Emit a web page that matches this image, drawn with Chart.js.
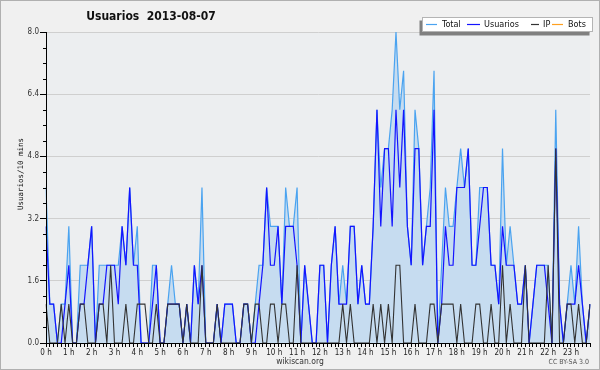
<!DOCTYPE html>
<html>
<head>
<meta charset="utf-8">
<title>Usuarios 2013-08-07</title>
<script src="https://cdn.jsdelivr.net/npm/chart.js@4.4.1/dist/chart.umd.min.js"></script>
<style>
html, body { margin: 0; padding: 0; background: #f0f0f0; }
canvas { display: block; }
</style>
</head>
<body>
<canvas id="myChart" width="600" height="370"></canvas>
<script>
// tick labels
const hourLabels = ['0 h', '1 h', '2 h', '3 h', '4 h', '5 h', '6 h', '7 h', '8 h', '9 h', '10 h', '11 h',
    '12 h', '13 h', '14 h', '15 h', '16 h', '17 h', '18 h', '19 h', '20 h', '21 h', '22 h', '23 h'];
const yTicks = [0, 1.6, 3.2, 4.8, 6.4, 8.0];

// one value every 10 minutes (144 per day)
const total = [
    4, 1, 1, 0, 1, 1, 3, 0, 0, 2, 2, 2,
    3, 0, 2, 2, 2, 2, 2, 2, 3, 2, 4, 2,
    3, 0, 0, 0, 2, 2, 0, 0, 1, 2, 1, 1,
    0, 1, 0, 2, 1, 4, 0, 0, 0, 1, 0, 1,
    1, 1, 0, 0, 1, 1, 0, 1, 2, 2, 4, 3,
    3, 3, 1, 4, 3, 3, 4, 0, 2, 1, 0, 0,
    2, 2, 0, 2, 3, 1, 2, 1, 3, 3, 1, 2,
    1, 1, 3, 6, 4, 5, 5, 6, 8, 6, 7, 3,
    2, 6, 5, 2, 3, 4, 7, 0, 2, 4, 3, 3,
    4, 5, 4, 5, 2, 2, 4, 4, 4, 2, 2, 1,
    5, 2, 3, 2, 1, 1, 2, 0, 1, 2, 2, 2,
    2, 0, 6, 1, 0, 1, 2, 1, 3, 1, 0, 1
];
const usuarios = [
    3, 1, 1, 0, 0, 1, 2, 0, 0, 1, 1, 2,
    3, 0, 1, 1, 2, 2, 2, 1, 3, 2, 4, 2,
    2, 0, 0, 0, 1, 2, 0, 0, 1, 1, 1, 1,
    0, 1, 0, 2, 1, 2, 0, 0, 0, 1, 0, 1,
    1, 1, 0, 0, 1, 1, 0, 0, 1, 2, 4, 2,
    2, 3, 1, 3, 3, 3, 2, 0, 2, 1, 0, 0,
    2, 2, 0, 2, 3, 1, 1, 1, 3, 3, 1, 2,
    1, 1, 3, 6, 3, 5, 5, 3, 6, 4, 6, 3,
    2, 5, 5, 2, 3, 3, 6, 0, 1, 3, 2, 2,
    4, 4, 4, 5, 2, 2, 3, 4, 4, 2, 2, 1,
    3, 2, 2, 2, 1, 1, 2, 0, 1, 2, 2, 2,
    1, 0, 5, 1, 0, 1, 1, 1, 2, 1, 0, 1
];
const ip = [
    1, 0, 0, 0, 1, 0, 1, 0, 0, 1, 1, 0,
    0, 0, 1, 1, 0, 2, 0, 0, 0, 1, 0, 0,
    1, 1, 1, 0, 0, 1, 0, 0, 1, 1, 1, 1,
    0, 1, 0, 0, 0, 2, 0, 0, 0, 1, 0, 0,
    0, 0, 0, 0, 1, 1, 0, 1, 1, 0, 0, 1,
    1, 0, 1, 1, 0, 0, 2, 0, 0, 0, 0, 0,
    0, 0, 0, 0, 0, 0, 1, 0, 1, 0, 0, 0,
    0, 0, 1, 0, 1, 0, 1, 0, 2, 2, 0, 0,
    0, 1, 0, 0, 0, 1, 1, 0, 1, 1, 1, 1,
    0, 1, 0, 0, 0, 1, 1, 0, 0, 1, 0, 0,
    2, 0, 1, 0, 0, 0, 2, 0, 0, 0, 0, 0,
    2, 0, 5, 0, 0, 1, 1, 0, 1, 0, 0, 1
];
const bots = [
    0, 0, 0, 0, 0, 0, 0, 0, 0, 0, 0, 0,
    0, 0, 0, 0, 0, 0, 0, 0, 0, 0, 0, 0,
    0, 0, 0, 0, 0, 0, 0, 0, 0, 0, 0, 0,
    0, 0, 0, 0, 0, 0, 0, 0, 0, 0, 0, 0,
    0, 0, 0, 0, 0, 0, 0, 0, 0, 0, 0, 0,
    0, 0, 0, 0, 0, 0, 0, 0, 0, 0, 0, 0,
    0, 0, 0, 0, 0, 0, 0, 0, 0, 0, 0, 0,
    0, 0, 0, 0, 0, 0, 0, 0, 0, 0, 0, 0,
    0, 0, 0, 0, 0, 0, 0, 0, 0, 0, 0, 0,
    0, 0, 0, 0, 0, 0, 0, 0, 0, 0, 0, 0,
    0, 0, 0, 0, 0, 0, 0, 0, 0, 0, 0, 0,
    0, 0, 0, 0, 0, 0, 0, 0, 0, 0, 0, 0
];

const slots = [];
hourLabels.forEach(function (h, hi) {
    for (let m = 0; m < 6; m++) {
        slots.push(hi + ':' + m + '0');
    }
});

const legendItems = [
    { label: 'Total', color: '#4aa3f0', x: 426, w: 11, tx: 442 },
    { label: 'Usuarios', color: '#1414ff', x: 467, w: 13, tx: 484 },
    { label: 'IP', color: '#333333', x: 531, w: 8, tx: 543 },
    { label: 'Bots', color: '#ffa020', x: 552, w: 11, tx: 568 }
];

const condensed = '"DejaVu Sans Condensed", "Liberation Sans Narrow", "DejaVu Sans", sans-serif';

// background, title, legend box, footer
const decor = {
    id: 'decor',
    beforeDraw: function (chart) {
        const c = chart.ctx;
        const a = chart.chartArea;
        c.save();
        c.fillStyle = '#f0f0f0';
        c.fillRect(0, 0, chart.width, chart.height);
        c.strokeStyle = '#b0b0b0';
        c.lineWidth = 1;
        c.strokeRect(0.5, 0.5, chart.width - 1, chart.height - 1);
        c.fillStyle = '#eceef0';
        c.fillRect(a.left, a.top, a.right - a.left, a.bottom - a.top);
        c.restore();
    },
    afterDraw: function (chart) {
        const c = chart.ctx;
        const a = chart.chartArea;
        const y = chart.scales.y;
        c.save();

        // minor ticks on the y axis
        c.strokeStyle = '#000';
        c.lineWidth = 1;
        c.beginPath();
        for (let k = 0; k <= 20; k++) {
            if (k % 4 === 0) continue;
            const py = Math.round(y.getPixelForValue(k * 0.4)) + 0.5;
            c.moveTo(a.left - 3, py);
            c.lineTo(a.left, py);
        }
        c.stroke();

        // title
        c.fillStyle = '#111';
        c.font = 'bold 12px ' + condensed;
        c.textAlign = 'center';
        c.textBaseline = 'middle';
        c.fillText('Usuarios  2013-08-07', 151, 17);

        // y axis title
        c.save();
        c.translate(21, 174);
        c.rotate(-Math.PI / 2);
        c.font = '7.5px "DejaVu Sans Mono", monospace';
        c.fillStyle = '#111';
        c.fillText('Usuarios/10 mins', 0, 0);
        c.restore();

        // legend
        c.fillStyle = '#808080';
        c.fillRect(419.5, 20.5, 170, 15);
        c.fillStyle = '#ffffff';
        c.fillRect(422, 17, 171, 15);
        c.strokeStyle = '#b4b4b4';
        c.strokeRect(422.5, 17.5, 170, 14);
        c.font = '9px ' + condensed;
        c.textAlign = 'left';
        legendItems.forEach(function (item) {
            c.strokeStyle = item.color;
            c.lineWidth = 1.2;
            c.beginPath();
            c.moveTo(item.x, 24.5);
            c.lineTo(item.x + item.w, 24.5);
            c.stroke();
            c.fillStyle = '#111';
            c.fillText(item.label, item.tx, 25);
        });

        // footer
        c.fillStyle = '#333';
        c.font = '8.5px ' + condensed;
        c.textAlign = 'center';
        c.fillText('wikiscan.org', 300, 362);
        c.fillStyle = '#555';
        c.font = '7px ' + condensed;
        c.textAlign = 'right';
        c.fillText('CC BY-SA 3.0', 589, 362);
        c.restore();
    }
};

const ctx = document.getElementById('myChart').getContext('2d');

let myChart = new Chart(ctx, {
    type: 'line',
    data: {
        labels: slots,
        datasets: [{
            label: 'Total',
            data: total,
            borderColor: '#4aa3f0',
            backgroundColor: '#c6dcf0',
            borderWidth: 1.2,
            fill: 'origin',
            order: 4
        }, {
            label: 'Usuarios',
            data: usuarios,
            borderColor: '#1414ff',
            borderWidth: 1.2,
            fill: false,
            order: 3
        }, {
            label: 'IP',
            data: ip,
            borderColor: '#333333',
            borderWidth: 1.1,
            fill: false,
            order: 2
        }, {
            label: 'Bots',
            data: bots,
            borderColor: '#ffa020',
            borderWidth: 1.1,
            fill: false,
            order: 5
        }]
    },
    options: {
        responsive: false,
        animation: false,
        devicePixelRatio: 1,
        elements: {
            point: { radius: 0, hoverRadius: 0 },
            line: { tension: 0 }
        },
        layout: {
            padding: { top: 32, right: 10, left: 0, bottom: 0 }
        },
        plugins: {
            legend: { display: false },
            title: { display: false },
            tooltip: { enabled: false }
        },
        scales: {
            x: {
                afterFit: function (scale) { scale.height = 27; },
                ticks: {
                    autoSkip: false,
                    maxRotation: 0,
                    minRotation: 0,
                    padding: 1,
                    color: '#222',
                    font: { family: condensed, size: 8 },
                    callback: function (v, i) {
                        return i % 6 === 0 ? hourLabels[i / 6] : '';
                    }
                },
                grid: {
                    drawOnChartArea: false,
                    tickColor: '#000',
                    tickLength: 4
                },
                border: { color: '#000', z: 1 }
            },
            y: {
                min: 0,
                max: 8,
                afterFit: function (scale) { scale.width = 46; },
                afterBuildTicks: function (scale) {
                    scale.ticks = yTicks.map(function (v) { return { value: v }; });
                },
                ticks: {
                    padding: 1,
                    color: '#333',
                    font: { family: condensed, size: 8 },
                    callback: function (v) { return Number(v).toFixed(1); }
                },
                grid: {
                    color: '#cfcfcf',
                    tickColor: '#000',
                    tickLength: 6
                },
                border: { color: '#000', z: 1 }
            }
        }
    },
    plugins: [decor]
});
</script>
</body>
</html>
